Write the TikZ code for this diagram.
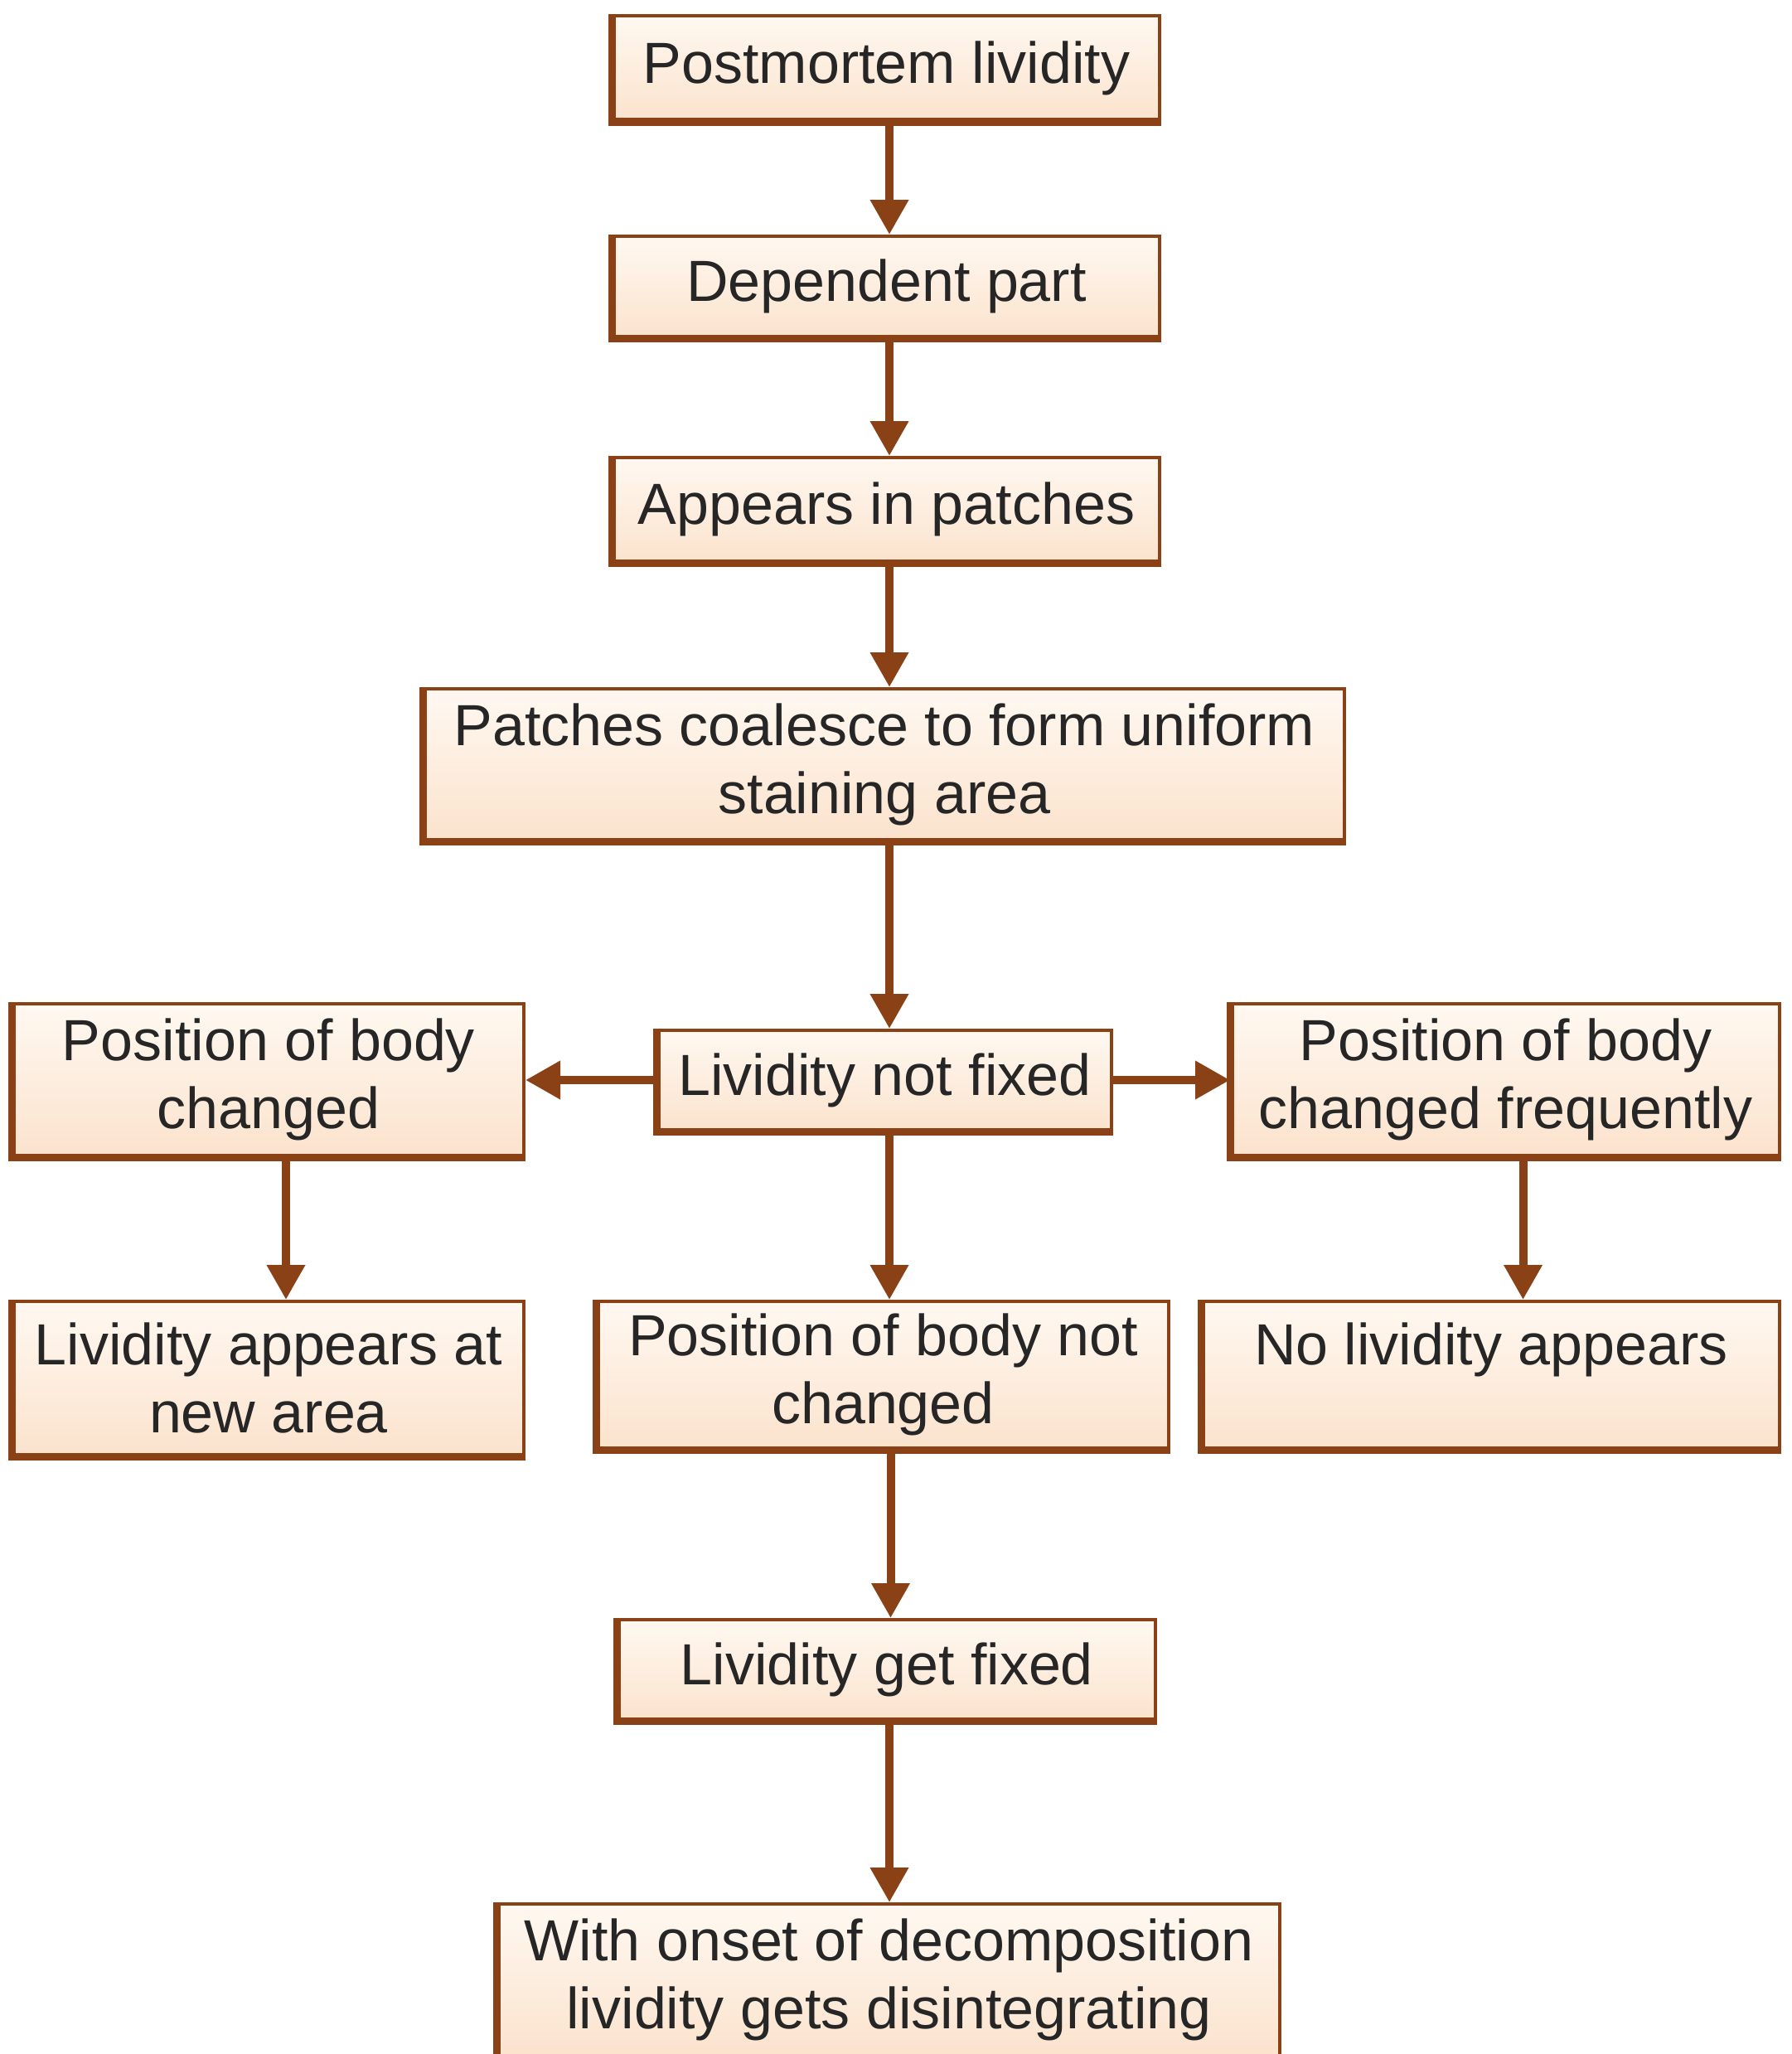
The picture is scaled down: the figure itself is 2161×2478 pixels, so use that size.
\documentclass[tikz,border=0pt]{standalone}
\usepackage{fontspec}
\setmainfont{Liberation Sans}
\usetikzlibrary{arrows.meta}
\definecolor{brn}{HTML}{8A4116}
\definecolor{boxtop}{HTML}{FFF8F1}
\definecolor{boxbot}{HTML}{FBE3CD}
\definecolor{txt}{HTML}{262626}
\begin{document}
\begin{tikzpicture}[x=1pt,y=-1pt,
  box/.style={draw=brn, line width=4pt, top color=boxtop, bottom color=boxbot,
    inner sep=0pt, align=center, text=txt, font=\fontsize{70}{82}\selectfont},
  edge/.style={draw=brn, line width=9pt, line join=miter},
  arr/.style={draw=brn, line width=10pt, -{Triangle[width=44pt,length=42pt]}}]
\useasboundingbox[fill=white] (0,0) rectangle (2161,2478);
\coordinate (col) at (1073,0);

\node[box, minimum width=659pt, minimum height=126pt] (n1) at (1069.5,82) {Postmortem lividity};
\node[box, minimum width=659pt, minimum height=121pt] (n2) at (1069.5,345.5) {Dependent part};
\node[box, minimum width=659pt, minimum height=125pt] (n3) at (1069.5,614.5) {Appears in patches};
\node[box, minimum width=1110pt, minimum height=182pt] (n4) at (1067,922) {Patches coalesce to form uniform\\staining area};
\node[box, minimum width=547pt, minimum height=120pt] (n5) at (1067.5,1303) {Lividity not fixed};
\node[box, minimum width=616pt, minimum height=183pt] (l1) at (324,1302.5) {Position of body\\changed};
\node[box, minimum width=661pt, minimum height=183pt] (r1) at (1816.5,1302.5) {Position of body\\changed frequently};
\node[box, minimum width=616pt, minimum height=185pt] (l2) at (324,1662.5) {Lividity appears at\\new area};
\node[box, minimum width=689pt, minimum height=177pt] (m2) at (1065.5,1658.5) {Position of body not\\changed};
\node[box, minimum width=696pt, minimum height=177pt] (r2) at (1799,1658.5) {No lividity appears\\[-32pt]\strut};
\node[box, minimum width=648pt, minimum height=120pt] (n6) at (1070,2014) {Lividity get fixed};
\node[box, minimum width=943pt, minimum height=183pt] (n7) at (1072.5,2388.5) {With onset of decomposition\\lividity gets disintegrating};

\foreach \n in {n1,n2,n3,n4,n5,l1,r1,l2,m2,r2,n6,n7}
  \draw[edge] (\n.north west) -- (\n.south west) -- (\n.south east);

\draw[arr] (n1.south -| col) -- (n2.north -| col);
\draw[arr] (n2.south -| col) -- (n3.north -| col);
\draw[arr] (n3.south -| col) -- (n4.north -| col);
\draw[arr] (n4.south -| col) -- (n5.north -| col);
\draw[arr] (n5.west) -- (n5.west -| l1.east);
\draw[arr] (n5.east) -- (n5.east -| r1.west);
\draw[arr] (n5.south -| col) -- (m2.north -| col);
\draw[arr] ([xshift=21pt]l1.south) -- ([xshift=21pt]l2.north);
\draw[arr] ([xshift=21pt]r1.south) -- ([xshift=21pt]r1.south |- r2.north);
\draw[arr] ([xshift=9pt]m2.south) -- ([xshift=9pt]m2.south |- n6.north);
\draw[arr] (n6.south -| col) -- (n7.north -| col);
\end{tikzpicture}
\end{document}
